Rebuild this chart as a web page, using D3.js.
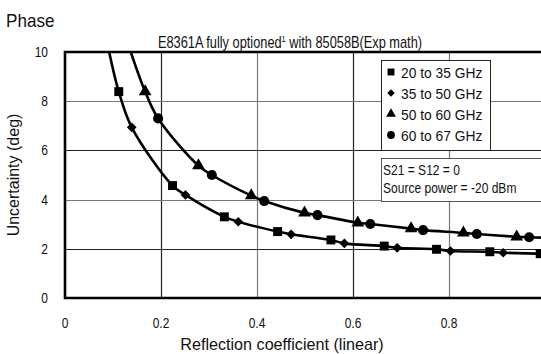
<!DOCTYPE html>
<html>
<head>
<meta charset="utf-8">
<script src="https://cdnjs.cloudflare.com/ajax/libs/d3/7.8.5/d3.min.js"></script>
<style>
  body { margin: 0; background: #fff; }
  svg { display: block; }
  text { font-family: "Liberation Sans", Arial, sans-serif; fill: #111; }
</style>
</head>
<body>
<div id="chart"></div>
<script>
// values
var seriesNames = ["20 to 35 GHz", "35 to 50 GHz", "50 to 60 GHz", "60 to 67 GHz"];
var seriesSymbols = ["square", "diamond", "triangle", "circle"];

var sqX = [0.112, 0.224, 0.332, 0.443, 0.554, 0.665, 0.774, 0.885, 0.99];
var sqY = [8.39, 4.57, 3.30, 2.70, 2.36, 2.11, 1.98, 1.88, 1.80];
var diX = [0.139, 0.251, 0.361, 0.471, 0.582, 0.692, 0.803, 0.913];
var diY = [6.94, 4.19, 3.10, 2.59, 2.22, 2.04, 1.91, 1.84];
var trX = [0.167, 0.278, 0.388, 0.499, 0.61, 0.721, 0.83, 0.941];
var trY = [8.39, 5.38, 4.16, 3.46, 3.06, 2.82, 2.65, 2.49];
var ciX = [0.194, 0.306, 0.415, 0.526, 0.636, 0.746, 0.858, 0.967];
var ciY = [7.30, 5.00, 3.94, 3.37, 3.01, 2.76, 2.60, 2.47];

// where the fitted curves leave the plot (top edge, right edge)
var lowerEnds = [[0.092, 10], [1.0, 1.79]];
var upperEnds = [[0.137, 10], [1.0, 2.45]];

var xTicks = [0, 0.2, 0.4, 0.6, 0.8, 1];
var yTicks = [0, 2, 4, 6, 8, 10];

var W = 541, H = 354;
var x0 = 65, x1 = 545, yTop = 52, yBot = 298;

var svg = d3.select("#chart").append("svg")
    .attr("width", W)
    .attr("height", H);

var x = d3.scaleLinear().domain([0, 1]).range([x0, x1]);
var y = d3.scaleLinear().domain([0, 10]).range([yBot, yTop]);

// the original uses a tall condensed face, so squeeze text sideways
function put(sel, px, py, sx) {
    return sel.attr("transform", "translate(" + px + "," + py + ") scale(" + sx + ",1)");
}

// grid, alternating dark / grey like the original
svg.append("g").selectAll("line")
    .data(xTicks.slice(1, 5))
    .enter().append("line")
    .attr("x1", function(d) { return Math.round(x(d)) + 0.5; })
    .attr("x2", function(d) { return Math.round(x(d)) + 0.5; })
    .attr("y1", yTop).attr("y2", yBot)
    .attr("stroke", function(d, i) { return i % 2 ? "#777" : "#222"; })
    .attr("stroke-width", 1.2);

svg.append("g").selectAll("line")
    .data(yTicks.slice(1, 5))
    .enter().append("line")
    .attr("y1", function(d) { return Math.round(y(d)) + 0.5; })
    .attr("y2", function(d) { return Math.round(y(d)) + 0.5; })
    .attr("x1", x0).attr("x2", W)
    .attr("stroke", function(d, i) { return i % 2 ? "#777" : "#222"; })
    .attr("stroke-width", 1.2);

// frame (left, top, bottom; right side is off the page)
svg.append("path")
    .attr("d", "M" + W + "," + yTop + "H" + x0 + "V" + yBot + "H" + W)
    .attr("fill", "none")
    .attr("stroke", "#000")
    .attr("stroke-width", 2.6);

// tick labels
svg.append("g").selectAll("text")
    .data(xTicks)
    .enter().append("text")
    .attr("transform", function(d) { return "translate(" + x(d) + ",328) scale(0.8,1)"; })
    .attr("text-anchor", "middle")
    .attr("font-size", 15)
    .text(function(d) { return d; });

svg.append("g").selectAll("text")
    .data(yTicks)
    .enter().append("text")
    .attr("transform", function(d) { return "translate(48," + (y(d) + 5) + ") scale(0.8,1)"; })
    .attr("text-anchor", "end")
    .attr("font-size", 15)
    .text(function(d) { return d; });

// titles
put(svg.append("text"), 6, 27, 0.95)
    .attr("font-size", 18)
    .text("Phase");

var title = put(svg.append("text"), 290, 48, 0.8)
    .attr("text-anchor", "middle")
    .attr("font-size", 16);
title.append("tspan").text("E8361A fully optioned");
title.append("tspan").attr("font-size", 9).attr("dy", -6).text("1");
title.append("tspan").attr("dy", 6).text(" with 85058B(Exp math)");

put(svg.append("text"), 282, 350, 0.95)
    .attr("text-anchor", "middle")
    .attr("font-size", 17)
    .text("Reflection coefficient (linear)");

svg.append("text")
    .attr("transform", "translate(19,175) rotate(-90)")
    .attr("text-anchor", "middle")
    .attr("font-size", 16)
    .text("Uncertainty (deg)");

// curves through the markers
function zipPts(xs, ys) {
    return xs.map(function(v, i) { return [v, ys[i]]; });
}
var lowerPts = [lowerEnds[0]].concat(zipPts(sqX, sqY), zipPts(diX, diY), [lowerEnds[1]])
    .sort(function(a, b) { return a[0] - b[0]; });
var upperPts = [upperEnds[0]].concat(zipPts(trX, trY), zipPts(ciX, ciY), [upperEnds[1]])
    .sort(function(a, b) { return a[0] - b[0]; });

svg.append("clipPath").attr("id", "plotclip")
    .append("rect").attr("x", x0).attr("y", yTop).attr("width", W - x0).attr("height", yBot - yTop);

var line = d3.line()
    .x(function(d) { return x(d[0]); })
    .y(function(d) { return y(d[1]); })
    .curve(d3.curveCatmullRom.alpha(0.5));

svg.append("g").attr("clip-path", "url(#plotclip)")
    .selectAll("path")
    .data([lowerPts, upperPts])
    .enter().append("path")
    .attr("d", line)
    .attr("fill", "none")
    .attr("stroke", "#000")
    .attr("stroke-width", 2.6);

// markers
var symType = {
    square: {type: d3.symbolSquare, size: 80},
    diamond: {type: d3.symbolDiamond2, size: 60},
    triangle: {type: d3.symbolTriangle, size: 70},
    circle: {type: d3.symbolCircle, size: 80}
};
var seriesPts = [zipPts(sqX, sqY), zipPts(diX, diY), zipPts(trX, trY), zipPts(ciX, ciY)];

seriesPts.forEach(function(pts, k) {
    var s = symType[seriesSymbols[k]];
    svg.append("g").selectAll("path")
        .data(pts)
        .enter().append("path")
        .attr("transform", function(d) { return "translate(" + x(d[0]) + "," + y(d[1]) + ")"; })
        .attr("d", d3.symbol().type(s.type).size(s.size))
        .attr("fill", "#000");
});

// legend
var lg = svg.append("g");
lg.append("rect")
    .attr("x", 381.5).attr("y", 60.5).attr("width", 109).attr("height", 90)
    .attr("fill", "#fff").attr("stroke", "#222").attr("stroke-width", 1);

seriesNames.forEach(function(name, k) {
    var s = symType[seriesSymbols[k]];
    var cy = 72 + k * 21;
    lg.append("path")
        .attr("transform", "translate(391," + cy + ")")
        .attr("d", d3.symbol().type(s.type).size(s.size * 0.6))
        .attr("fill", "#000");
    put(lg.append("text"), 401, cy + 5.5, 0.92)
        .attr("font-size", 15)
        .text(name);
});

var note = svg.append("g");
note.append("rect")
    .attr("x", 381.5).attr("y", 158.5).attr("width", 170).attr("height", 43)
    .attr("fill", "#fff").attr("stroke", "#555").attr("stroke-width", 1);
put(note.append("text"), 383, 175, 0.86).attr("font-size", 14).text("S21 = S12 = 0");
put(note.append("text"), 383, 193, 0.86).attr("font-size", 14).text("Source power = -20 dBm");
</script>
</body>
</html>
